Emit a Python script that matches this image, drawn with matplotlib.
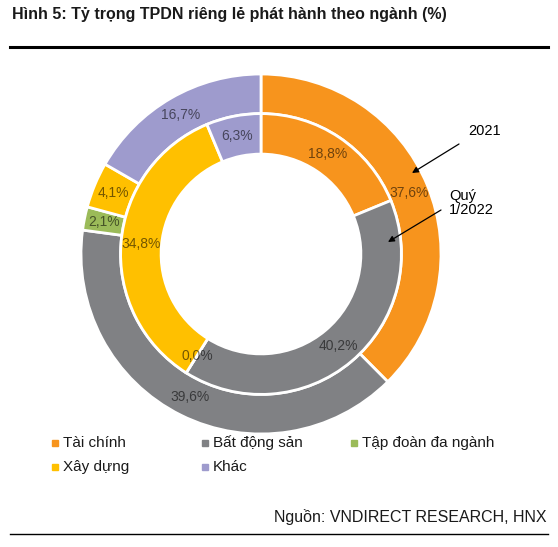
import matplotlib
matplotlib.use("Agg")
import matplotlib.pyplot as plt
from matplotlib.lines import Line2D

plt.rcParams["font.family"] = ["Liberation Sans", "DejaVu Sans"]

# data
sectors = ["Tài chính", "Bất động sản", "Tập đoàn đa ngành", "Xây dựng", "Khác"]
share_2021 = [37.6, 39.6, 2.1, 4.1, 16.7]
share_q1_2022 = [18.8, 40.2, 0.0, 34.8, 6.3]
colors = ["#F7941D", "#808184", "#9BBB59", "#FFC000", "#9E9BCD"]

W, H = 558, 547
fig = plt.figure(figsize=(W / 100, H / 100), dpi=100)

# donut axes: centre (261, 254) px from top-left, outer radius 180 px
R = 180
cx, cy = 261, H - 254
ax = fig.add_axes([(cx - R) / W, (cy - R) / H, 2 * R / W, 2 * R / H])
ax.axis("off")

lbl_color = (0, 0, 0, 0.55)
wedge_kw = dict(edgecolor="white", linewidth=2)

# outer ring: 2021
wedges, texts = ax.pie(share_2021, colors=colors, radius=1.0, startangle=90,
                       counterclock=False, wedgeprops=dict(width=0.22, **wedge_kw),
                       labels=[f"{v:.1f}%".replace(".", ",") for v in share_2021],
                       labeldistance=0.89,
                       textprops=dict(color=lbl_color, fontsize=10))

# inner ring: Q1/2022
wedges2, texts2 = ax.pie(share_q1_2022, colors=colors, radius=0.78, startangle=90,
                         counterclock=False, wedgeprops=dict(width=0.225, **wedge_kw),
                         labels=[f"{v:.1f}%".replace(".", ",") for v in share_q1_2022],
                         labeldistance=0.855,
                         textprops=dict(color=lbl_color, fontsize=10))
for t in texts + texts2:
    t.set_ha("center")
    t.set_va("center")
ax.set_xlim(-1, 1)
ax.set_ylim(-1, 1)


def px(x, y):
    # image pixel -> figure fraction
    return x / W, 1 - y / H


# annotations
ax.annotate("", xy=px(412, 173), xytext=px(459, 144), xycoords="figure fraction",
            textcoords="figure fraction",
            arrowprops=dict(arrowstyle="-|>", color="black", lw=0.9,
                            shrinkA=0, shrinkB=0, mutation_scale=9))
fig.text(*px(468, 131), "2021", fontsize=10.5, ha="left", va="center")
ax.annotate("", xy=px(388, 242), xytext=px(441, 210), xycoords="figure fraction",
            textcoords="figure fraction",
            arrowprops=dict(arrowstyle="-|>", color="black", lw=0.9,
                            shrinkA=0, shrinkB=0, mutation_scale=9))
fig.text(*px(449, 203), "Quý\n1/2022", fontsize=10.5, ha="left", va="center",
         linespacing=1.0)

# title and rules
fig.text(*px(12, 15), "Hình 5: Tỷ trọng TPDN riêng lẻ phát hành theo ngành (%)",
         fontsize=11.5, fontweight="bold", ha="left", va="center", color="#1a1a1a")
fig.add_artist(Line2D([10 / W, 548 / W], [1 - 47 / H] * 2, color="black", lw=2.2,
                      transform=fig.transFigure))
fig.add_artist(Line2D([10 / W, 548 / W], [1 - 534 / H] * 2, color="black", lw=1.0,
                      transform=fig.transFigure))

# legend
leg_pos = [(55, 443), (205, 443), (354, 443), (55, 467), (205, 467)]
for (lx, ly), name, c in zip(leg_pos, sectors, colors):
    fig.add_artist(Line2D([lx / W], [1 - ly / H], marker="s", markersize=4.5,
                          color=c, lw=0, transform=fig.transFigure))
    fig.text(*px(lx + 8, ly), name, fontsize=11, ha="left", va="center", color="#1a1a1a")

fig.text(*px(546, 517), "Nguồn: VNDIRECT RESEARCH, HNX", fontsize=11.5,
         ha="right", va="center", color="#1a1a1a")

fig.savefig("out.png", dpi=100)
